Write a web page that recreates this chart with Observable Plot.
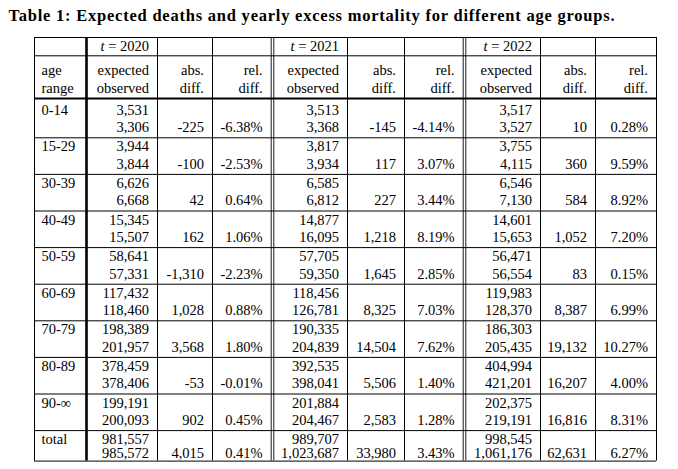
<!DOCTYPE html>
<html>
<head>
<meta charset="utf-8">
<script src="https://cdn.jsdelivr.net/npm/d3@7"></script>
<script src="https://cdn.jsdelivr.net/npm/@observablehq/plot@0.6"></script>
<style>
  html, body { margin: 0; padding: 0; background: #fff; }
  #chart svg { display: block; font-family: "Liberation Serif", serif; }
  #chart svg text { font-family: "Liberation Serif", serif; }
</style>
</head>
<body>
<div id="chart"></div>
<script>
// ---------------- DATA ----------------
const title = "Table 1: Expected deaths and yearly excess mortality for different age groups.";
const years = ["2020", "2021", "2022"];
const headerAge = ["age", "range"];
const headerExpObs = ["expected", "observed"];
const headerAbs = ["abs.", "diff."];
const headerRel = ["rel.", "diff."];
const ageGroups = ["0-14", "15-29", "30-39", "40-49", "50-59", "60-69", "70-79", "80-89", "90-∞", "total"];

const expected2020 = [3531, 3944, 6626, 15345, 58641, 117432, 198389, 378459, 199191, 981557];
const observed2020 = [3306, 3844, 6668, 15507, 57331, 118460, 201957, 378406, 200093, 985572];
const absDiff2020  = [-225, -100, 42, 162, -1310, 1028, 3568, -53, 902, 4015];
const relDiff2020  = [-6.38, -2.53, 0.64, 1.06, -2.23, 0.88, 1.80, -0.01, 0.45, 0.41];

const expected2021 = [3513, 3817, 6585, 14877, 57705, 118456, 190335, 392535, 201884, 989707];
const observed2021 = [3368, 3934, 6812, 16095, 59350, 126781, 204839, 398041, 204467, 1023687];
const absDiff2021  = [-145, 117, 227, 1218, 1645, 8325, 14504, 5506, 2583, 33980];
const relDiff2021  = [-4.14, 3.07, 3.44, 8.19, 2.85, 7.03, 7.62, 1.40, 1.28, 3.43];

const expected2022 = [3517, 3755, 6546, 14601, 56471, 119983, 186303, 404994, 202375, 998545];
const observed2022 = [3527, 4115, 7130, 15653, 56554, 128370, 205435, 421201, 219191, 1061176];
const absDiff2022  = [10, 360, 584, 1052, 83, 8387, 19132, 16207, 16816, 62631];
const relDiff2022  = [0.28, 9.59, 8.92, 7.20, 0.15, 6.99, 10.27, 4.00, 8.31, 6.27];

// ---------------- LAYOUT ----------------
const W = 678, H = 469;
const TABLE_LEFT = 34;
const FONT = "Liberation Serif";
const FS = 14.5;
const colWidths = [52, 71, 55, 60, 75, 57, 60, 76, 55, 61];
const edges = Array.from(d3.cumsum([0, ...colWidths]));   // table units
const doubleAt = [4, 7];       // edges drawn as double rules
const thickAt = [1];           // thick vertical rule
const PAD_R = 8.5, PAD_L = 7, DBL = 1.3;

// vertical layout (px -> row units)
const ROW0 = 100.7, PITCH = 36.6;
const u = px => (px - ROW0) / PITCH;
const lineTop = u(37), lineHead = u(55.3), lineThick = u(98);
const baseYear = u(50.7), baseHead1 = u(74), baseHead2 = u(92.7), baseTitle = u(20.5);
const nRows = ageGroups.length;
const B1 = i => (i === nRows - 1 ? 13 : 13.5) / PITCH;
const B2 = i => (i === nRows - 1 ? 27.5 : 31) / PITCH;
const lineBottom = (nRows - 1) + 30.5 / PITCH;

// ---------------- FORMAT ----------------
const loc = d3.formatLocale({decimal: ".", thousands: ",", grouping: [3], currency: ["", ""], minus: "-"});
const fInt = loc.format(",d");
const fPct = v => loc.format(".2f")(v) + "%";

const series = [
  [expected2020, observed2020, absDiff2020, relDiff2020],
  [expected2021, observed2021, absDiff2021, relDiff2021],
  [expected2022, observed2022, absDiff2022, relDiff2022]
];

const rightX = c => edges[c + 1] - PAD_R - (doubleAt.includes(c + 1) ? DBL : 0);
const leftX = c => edges[c] + PAD_L;

// text cells
const cells = [];
headerAge.forEach((t, k) => cells.push({x: leftX(0), y: k ? baseHead2 : baseHead1, text: t, anchor: "start"}));
years.forEach((yr, j) => {
  const c0 = 1 + 3 * j;
  cells.push({x: rightX(c0), y: baseYear, text: "t = " + yr, anchor: "end"});
  [headerExpObs, headerAbs, headerRel].forEach((h, m) => {
    h.forEach((t, k) => cells.push({x: rightX(c0 + m), y: k ? baseHead2 : baseHead1, text: t, anchor: "end"}));
  });
});
ageGroups.forEach((g, i) => {
  cells.push({x: leftX(0), y: i + B1(i), text: g, anchor: "start"});
  series.forEach(([e, o, a, r], j) => {
    const c0 = 1 + 3 * j;
    cells.push({x: rightX(c0), y: i + B1(i), text: fInt(e[i]), anchor: "end"});
    cells.push({x: rightX(c0), y: i + B2(i), text: fInt(o[i]), anchor: "end"});
    cells.push({x: rightX(c0 + 1), y: i + B2(i), text: fInt(a[i]), anchor: "end"});
    cells.push({x: rightX(c0 + 2), y: i + B2(i), text: fPct(r[i]), anchor: "end"});
  });
});

// horizontal rules
const hRules = [{y: lineTop, w: 1}, {y: lineHead, w: 1}, {y: lineThick, w: 2.2}];
for (let i = 1; i < nRows; i++) hRules.push({y: i, w: 1});
hRules.push({y: lineBottom, w: 1});

// vertical rules
const vRules = [];
edges.forEach((e, k) => {
  if (doubleAt.includes(k)) vRules.push({x: e - DBL, w: 0.9}, {x: e + DBL, w: 0.9});
  else vRules.push({x: e, w: thickAt.includes(k) ? 2.6 : 1});
});

const chart = Plot.plot({
  width: W, height: H,
  margin: 0,
  style: {fontFamily: FONT, fontSize: FS + "px", background: "#fff", color: "#000"},
  x: {type: "linear", domain: [0, edges[edges.length - 1]], range: [TABLE_LEFT, TABLE_LEFT + edges[edges.length - 1]], axis: null},
  y: {type: "linear", domain: [u(0), u(H)], range: [0, H], axis: null},
  marks: [
    Plot.ruleY(hRules, {y: "y", x1: 0, x2: edges[edges.length - 1], stroke: "#000", strokeWidth: "w"}),
    Plot.ruleX(vRules, {x: "x", y1: lineTop, y2: lineBottom, stroke: "#000", strokeWidth: "w"}),
    Plot.text(cells.filter(d => d.anchor === "end"), {x: "x", y: "y", text: "text", textAnchor: "end", lineAnchor: "bottom", fontFamily: FONT, fontSize: FS, fill: "#000"}),
    Plot.text(cells.filter(d => d.anchor === "start"), {x: "x", y: "y", text: "text", textAnchor: "start", lineAnchor: "bottom", fontFamily: FONT, fontSize: FS, fill: "#000"}),
    Plot.text([title], {x: -26, y: baseTitle, text: d => d, textAnchor: "start", lineAnchor: "bottom", fontFamily: FONT, fontSize: 16.5, fontWeight: "bold", fill: "#000"})
  ]
});

document.getElementById("chart").appendChild(chart);

const NS = "http://www.w3.org/2000/svg";
chart.querySelectorAll("text").forEach(t => {
  const m = /^t = (\d{4})$/.exec(t.textContent);
  if (m) {
    t.textContent = "";
    const a = document.createElementNS(NS, "tspan");
    a.setAttribute("font-style", "italic");
    a.textContent = "t";
    const b = document.createElementNS(NS, "tspan");
    b.textContent = " = " + m[1];
    t.appendChild(a); t.appendChild(b);
  } else if (t.textContent === title) {
    t.setAttribute("textLength", 606);
    t.setAttribute("lengthAdjust", "spacing");
  }
});
</script>
</body>
</html>
